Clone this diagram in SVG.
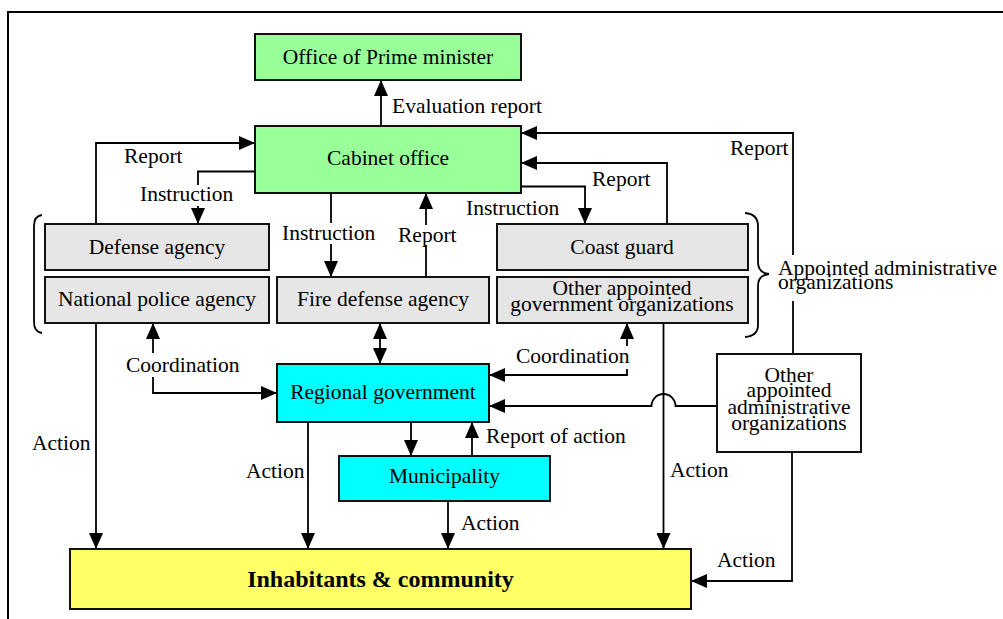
<svg xmlns="http://www.w3.org/2000/svg" width="1003" height="619" viewBox="0 0 1003 619" font-family="'Liberation Serif', Tinos, 'Times New Roman', serif">
  <style>
    .box { stroke: #111; stroke-width: 2; }
    .green { fill: #99ff99; }
    .gray { fill: #e6e6e6; }
    .cyan { fill: #00ffff; }
    .yellow { fill: #ffff66; }
    .white { fill: #ffffff; }
    .t { font-family: 'Liberation Serif', Tinos, 'Times New Roman', serif; font-size: 21.5px; fill: #000; }
    .c { text-anchor: middle; }
    .b { font-weight: bold; font-size: 24px; }
    .ln { fill: none; stroke: #000; stroke-width: 1.8; }
    .end { marker-end: url(#ah); }
    .start { marker-start: url(#ah); }
  </style>
  <defs>
    <marker id="ah" viewBox="0 0 16 14" refX="16" refY="7" markerWidth="16" markerHeight="14" orient="auto-start-reverse" markerUnits="userSpaceOnUse">
      <path d="M0,0 L16,7 L0,14 z" fill="#000"/>
    </marker>
  </defs>

  <rect width="1003" height="619" fill="#fff"/>
  <!-- outer frame -->
  <path d="M8,619 V12 H1003" fill="none" stroke="#000" stroke-width="2"/>

  <!-- connectors -->
  <g id="connectors">
    <path class="ln end" d="M381,126 V80"/>
    <path class="ln end" d="M96,224 V143 H255"/>
    <path class="ln end" d="M96,323 V549"/>
    <path class="ln" d="M255,171.5 H198 V185"/>
    <path class="ln end" d="M198,206 V224"/>
    <path class="ln" d="M331,193 V223"/>
    <path class="ln end" d="M331,244 V277"/>
    <path class="ln" d="M426,277 V245"/>
    <path class="ln end" d="M426,225 V193"/>
    <path class="ln end" d="M521,186.5 H585 V224"/>
    <path class="ln end" d="M667,224 V163 H521"/>
    <path class="ln" d="M793,354 V301"/>
    <path class="ln end" d="M793,255 V133 H521"/>
    <path class="ln start end" d="M380,323 V364"/>
    <path class="ln start" d="M153,323 V353"/>
    <path class="ln end" d="M153,377 V393 H277"/>
    <path class="ln start" d="M627,323 V346"/>
    <path class="ln end" d="M627,369 V375 H489"/>
    <path class="ln end" d="M717,406 H675.5 A12,12 0 0 0 651.5,406 H489"/>
    <path class="ln end" d="M663.5,323 V549"/>
    <path class="ln end" d="M792,452 V581 H691"/>
    <path class="ln end" d="M308,422 V549"/>
    <path class="ln end" d="M411,422 V456"/>
    <path class="ln end" d="M472,456 V422"/>
    <path class="ln end" d="M448,501 V549"/>
    <!-- braces -->
    <path class="ln" d="M42,215 Q34,216 34,226 V322 Q34,332 42,333" stroke-width="1.2"/>
    <path class="ln" d="M745,213 Q758,214 758,226 V262 Q758,273 769,274 Q758,275 758,286 V325 Q758,336 745,337" stroke-width="1.2"/>
  </g>

  <!-- connector labels -->
  <g id="labels" class="t">
    <text x="392" y="113">Evaluation report</text>
    <text x="124" y="163">Report</text>
    <text x="140" y="201">Instruction</text>
    <text x="282" y="240">Instruction</text>
    <text x="398" y="242">Report</text>
    <text x="466" y="215">Instruction</text>
    <text x="592" y="186">Report</text>
    <text x="730" y="155">Report</text>
    <text x="778" y="275">Appointed administrative</text>
    <text x="778" y="289">organizations</text>
    <text x="126" y="372">Coordination</text>
    <text x="516" y="363">Coordination</text>
    <text x="32" y="450">Action</text>
    <text x="246" y="478">Action</text>
    <text x="486" y="443">Report of action</text>
    <text x="461" y="530">Action</text>
    <text x="670" y="477">Action</text>
    <text x="717" y="567">Action</text>
  </g>

  <!-- nodes -->
  <g id="prime-minister">
    <rect class="box green" x="255" y="34" width="266" height="46"/>
    <text class="t c" x="388" y="64">Office of Prime minister</text>
  </g>
  <g id="cabinet-office">
    <rect class="box green" x="255" y="126" width="266" height="67"/>
    <text class="t c" x="388" y="165">Cabinet office</text>
  </g>
  <g id="defense-agency">
    <rect class="box gray" x="45" y="224" width="224" height="46"/>
    <text class="t c" x="157" y="254">Defense agency</text>
  </g>
  <g id="national-police-agency">
    <rect class="box gray" x="45" y="277" width="224" height="46"/>
    <text class="t c" x="157" y="306">National police agency</text>
  </g>
  <g id="fire-defense-agency">
    <rect class="box gray" x="277" y="277" width="212" height="46"/>
    <text class="t c" x="383" y="306">Fire defense agency</text>
  </g>
  <g id="coast-guard">
    <rect class="box gray" x="497" y="224" width="251" height="46"/>
    <text class="t c" x="622" y="254">Coast guard</text>
  </g>
  <g id="other-government-organizations">
    <rect class="box gray" x="497" y="277" width="251" height="46"/>
    <text class="t c" x="622" y="295">Other appointed</text>
    <text class="t c" x="622" y="311">government organizations</text>
  </g>
  <g id="regional-government">
    <rect class="box cyan" x="277" y="364" width="212" height="58"/>
    <text class="t c" x="383" y="399">Regional government</text>
  </g>
  <g id="municipality">
    <rect class="box cyan" x="339" y="456" width="211" height="45"/>
    <text class="t c" x="444.5" y="483">Municipality</text>
  </g>
  <g id="other-administrative-organizations">
    <rect class="box white" x="717" y="354" width="144" height="98"/>
    <text class="t c" x="789" y="382">Other</text>
    <text class="t c" x="789" y="397">appointed</text>
    <text class="t c" x="789" y="414">administrative</text>
    <text class="t c" x="789" y="430">organizations</text>
  </g>
  <g id="inhabitants">
    <rect class="box yellow" x="70" y="549" width="621" height="60"/>
    <text class="t c b" x="380.5" y="587">Inhabitants &amp; community</text>
  </g>
</svg>
